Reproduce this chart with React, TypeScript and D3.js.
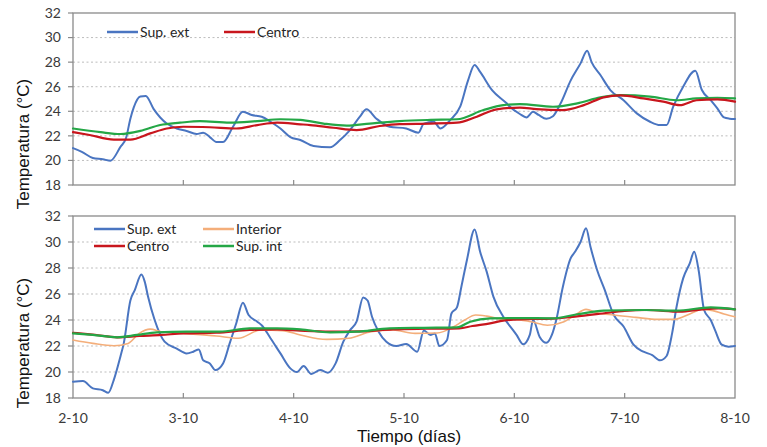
import React from "react";
import * as d3 from "d3";

// ---------- DATA (day offset from 2-10, temperature °C) ----------
const dayLabels = ["2-10", "3-10", "4-10", "5-10", "6-10", "7-10", "8-10"];
const yTicks = [18, 20, 22, 24, 26, 28, 30, 32];

const topSupExt: [number, number][] = [
  [0, 21.0], [0.08, 20.7], [0.18, 20.2], [0.27, 20.1], [0.34, 19.98], [0.43, 21.1], [0.48, 21.8],
  [0.52, 23.4], [0.55, 24.3], [0.61, 25.2], [0.66, 25.25], [0.73, 24.2], [0.85, 23.0], [0.94, 22.6],
  [1.03, 22.4], [1.12, 22.15], [1.18, 22.26], [1.24, 21.9], [1.3, 21.5], [1.36, 21.5], [1.45, 22.74],
  [1.54, 23.96], [1.62, 23.7], [1.71, 23.56], [1.79, 23.15], [1.88, 22.6], [1.97, 21.9], [2.06, 21.66],
  [2.18, 21.17], [2.33, 21.07], [2.42, 21.66], [2.51, 22.47], [2.6, 23.56], [2.66, 24.16], [2.75, 23.4],
  [2.87, 22.74], [3.02, 22.6], [3.13, 22.26], [3.18, 23.0], [3.27, 23.15], [3.33, 22.6], [3.42, 23.3],
  [3.51, 24.4], [3.58, 26.5], [3.64, 27.76], [3.69, 27.2], [3.8, 25.7], [3.93, 24.65], [3.96, 24.37],
  [4.05, 23.78], [4.11, 23.5], [4.17, 23.96], [4.22, 23.7], [4.29, 23.4], [4.35, 23.6], [4.42, 24.65],
  [4.51, 26.5], [4.6, 27.9], [4.66, 28.93], [4.7, 28.0], [4.78, 26.95], [4.87, 25.73], [4.99, 24.9],
  [5.11, 23.83], [5.23, 23.15], [5.32, 22.88], [5.38, 22.88], [5.44, 24.37], [5.53, 26.0], [5.64, 27.3],
  [5.7, 25.73], [5.78, 24.9], [5.84, 24.24], [5.9, 23.5], [5.95, 23.4], [6.0, 23.37],
];

const topCentro: [number, number][] = [
  [0, 22.3], [0.15, 22.07], [0.37, 21.7], [0.52, 21.7], [0.7, 22.2], [0.85, 22.6], [1.0, 22.74],
  [1.24, 22.7], [1.48, 22.6], [1.67, 22.88], [1.85, 23.07], [2.06, 22.94], [2.15, 22.88], [2.36, 22.66],
  [2.57, 22.47], [2.78, 22.8], [2.96, 22.96], [3.24, 23.0], [3.48, 23.07], [3.66, 23.56], [3.84, 24.16],
  [4.05, 24.3], [4.2, 24.18], [4.44, 24.1], [4.63, 24.5], [4.81, 25.13], [4.96, 25.3], [5.17, 25.05],
  [5.35, 24.78], [5.5, 24.5], [5.65, 24.9], [5.84, 24.97], [6.0, 24.78],
];

const topSupInt: [number, number][] = [
  [0, 22.6], [0.25, 22.3], [0.43, 22.15], [0.61, 22.4], [0.79, 22.88], [0.97, 23.07], [1.15, 23.2],
  [1.42, 23.07], [1.67, 23.2], [1.88, 23.35], [2.06, 23.3], [2.27, 23.0], [2.48, 22.83], [2.69, 23.0],
  [2.96, 23.2], [3.24, 23.3], [3.48, 23.35], [3.72, 24.1], [3.9, 24.5], [4.05, 24.58], [4.35, 24.37],
  [4.57, 24.65], [4.78, 25.13], [4.96, 25.32], [5.23, 25.2], [5.47, 24.9], [5.65, 25.05], [5.84, 25.1],
  [6.0, 25.05],
];

const botSupExt: [number, number][] = [
  [0, 19.25], [0.09, 19.3], [0.18, 18.74], [0.27, 18.6], [0.32, 18.4], [0.37, 19.4], [0.43, 21.2],
  [0.46, 22.2], [0.52, 25.5], [0.56, 26.3], [0.62, 27.5], [0.65, 26.95], [0.68, 25.8], [0.74, 24.0],
  [0.83, 22.33], [0.94, 21.8], [1.03, 21.43], [1.09, 21.56], [1.14, 21.73], [1.18, 20.9], [1.24, 20.66],
  [1.29, 20.15], [1.36, 20.66], [1.42, 22.2], [1.48, 23.75], [1.54, 25.33], [1.59, 24.4], [1.67, 23.87],
  [1.71, 23.6], [1.79, 22.6], [1.88, 21.43], [1.97, 20.28], [2.03, 20.0], [2.09, 20.46], [2.16, 19.85],
  [2.24, 20.15], [2.31, 19.95], [2.38, 20.66], [2.45, 22.33], [2.51, 23.2], [2.57, 23.87], [2.63, 25.74],
  [2.67, 25.5], [2.71, 24.25], [2.77, 23.1], [2.84, 22.33], [2.93, 22.0], [3.02, 22.15], [3.12, 21.56],
  [3.18, 23.2], [3.24, 22.85], [3.28, 22.97], [3.32, 22.0], [3.39, 22.46], [3.43, 24.5], [3.48, 24.97],
  [3.52, 26.56], [3.57, 28.6], [3.64, 30.97], [3.69, 29.25], [3.75, 27.7], [3.81, 25.8], [3.9, 24.25],
  [3.99, 23.2], [4.02, 22.85], [4.08, 22.13], [4.14, 22.85], [4.17, 24.0], [4.23, 22.7], [4.29, 22.25],
  [4.34, 22.85], [4.38, 24.0], [4.44, 26.56], [4.51, 28.74], [4.55, 29.25], [4.6, 30.0], [4.65, 31.05],
  [4.69, 29.64], [4.75, 27.85], [4.82, 26.3], [4.9, 24.4], [4.99, 23.5], [5.08, 22.1], [5.17, 21.56],
  [5.25, 21.3], [5.32, 20.9], [5.38, 21.23], [5.43, 22.97], [5.47, 25.0], [5.53, 27.2], [5.59, 28.36],
  [5.63, 29.25], [5.67, 27.85], [5.72, 24.77], [5.78, 24.0], [5.82, 23.2], [5.88, 22.1], [5.94, 21.95],
  [6.0, 22.0],
];

const botInterior: [number, number][] = [
  [0, 22.46], [0.18, 22.2], [0.37, 22.02], [0.5, 22.2], [0.6, 22.97], [0.7, 23.3], [0.8, 23.1],
  [1.0, 22.97], [1.3, 22.77], [1.5, 22.6], [1.7, 23.23], [1.9, 23.18], [2.06, 22.85], [2.3, 22.51],
  [2.5, 22.6], [2.7, 23.1], [2.9, 23.23], [3.1, 22.97], [3.3, 23.0], [3.45, 23.48], [3.55, 24.0],
  [3.65, 24.38], [3.75, 24.3], [3.9, 24.05], [4.0, 24.05], [4.15, 23.87], [4.3, 23.6], [4.45, 23.87],
  [4.55, 24.38], [4.65, 24.82], [4.75, 24.56], [4.9, 24.38], [5.1, 24.2], [5.3, 24.05], [5.45, 24.05],
  [5.6, 24.5], [5.7, 24.82], [5.8, 24.72], [5.9, 24.46], [6.0, 24.25],
];

const botCentro: [number, number][] = [
  [0, 23.02], [0.2, 22.85], [0.4, 22.67], [0.6, 22.77], [0.8, 22.85], [1.0, 22.97], [1.3, 23.02],
  [1.6, 23.23], [1.85, 23.28], [2.06, 23.18], [2.33, 23.1], [2.6, 23.13], [2.9, 23.28], [3.2, 23.33],
  [3.5, 23.36], [3.62, 23.54], [3.78, 23.74], [3.9, 23.95], [4.05, 24.05], [4.35, 24.1], [4.55, 24.26],
  [4.8, 24.5], [5.0, 24.7], [5.2, 24.77], [5.5, 24.64], [5.7, 24.82], [5.85, 24.9], [6.0, 24.82],
];

const botSupInt: [number, number][] = [
  [0, 22.97], [0.18, 22.85], [0.4, 22.67], [0.58, 22.85], [0.76, 23.05], [1.03, 23.1], [1.33, 23.1],
  [1.6, 23.36], [1.85, 23.36], [2.06, 23.28], [2.33, 23.05], [2.57, 23.1], [2.87, 23.36], [3.18, 23.4],
  [3.48, 23.43], [3.6, 23.87], [3.78, 24.13], [4.05, 24.15], [4.35, 24.13], [4.57, 24.44], [4.81, 24.72],
  [5.17, 24.77], [5.47, 24.72], [5.78, 24.97], [6.0, 24.82],
];

// ---------- STYLE ----------
const BLUE = "#4a75c1";
const RED = "#c8161d";
const GREEN = "#24a746";
const ORANGE = "#f4ae7a";
const TICK_FONT = "Lato, 'Open Sans', sans-serif";
const TITLE_FONT = "'Liberation Sans', Arial, sans-serif";

const W = 767;
const H = 447;
const xLeft = 73;
const xRight = 735;

const x = d3.scaleLinear().domain([0, 6]).range([xLeft, xRight]);

type Series = { data: [number, number][]; color: string; width: number };

function Panel({ top, bottom, series, showX }: { top: number; bottom: number; series: Series[]; showX: boolean }) {
  const y = d3.scaleLinear().domain([18, 32]).range([bottom, top]);
  const mk = (s: Series) =>
    d3
      .line<[number, number]>()
      .x((d) => x(d[0]))
      .y((d) => y(d[1]))
      .curve(d3.curveMonotoneX)(s.data) || "";
  return (
    <g>
      {yTicks
        .filter((t) => t > 18 && t < 32)
        .map((t) => (
          <line key={"g" + t} x1={xLeft} x2={xRight} y1={y(t)} y2={y(t)} stroke="#bdbdbd" strokeWidth={1} strokeDasharray="2,2.5" />
        ))}
      <rect x={xLeft} y={top} width={xRight - xLeft} height={bottom - top} fill="none" stroke="#8a8a8a" strokeWidth={1.3} />
      {yTicks.map((t) => (
        <g key={"y" + t}>
          <line x1={xLeft - 5} x2={xLeft} y1={y(t)} y2={y(t)} stroke="#8a8a8a" strokeWidth={1.2} />
          <text x={61} y={y(t)} dy="0.35em" textAnchor="end" fontFamily={TICK_FONT} fontSize={14} fill="#3a3a3a">
            {t}
          </text>
        </g>
      ))}
      {dayLabels.map((lab, i) => (
        <g key={"x" + i}>
          {i > 0 && i < 6 && <line x1={x(i)} x2={x(i)} y1={bottom} y2={bottom - 5} stroke="#8a8a8a" strokeWidth={1.2} />}
          {showX && (
            <text x={x(i)} y={bottom + 25} textAnchor="middle" fontFamily={TICK_FONT} fontSize={14} fill="#3a3a3a">
              {lab}
            </text>
          )}
        </g>
      ))}
      {series.map((s, i) => (
        <path key={i} d={mk(s)} fill="none" stroke={s.color} strokeWidth={s.width} strokeLinejoin="round" strokeLinecap="round" />
      ))}
    </g>
  );
}

function LegendItem({ x0, y0, color, label }: { x0: number; y0: number; color: string; label: string }) {
  return (
    <g>
      <line x1={x0} x2={x0 + 31} y1={y0} y2={y0} stroke={color} strokeWidth={2.5} />
      <text x={x0 + 33} y={y0} dy="0.35em" fontFamily={TICK_FONT} fontSize={14} fill="#262626">
        {label}
      </text>
    </g>
  );
}

export default function App() {
  const topSeries: Series[] = [
    { data: topSupExt, color: BLUE, width: 2 },
    { data: topSupInt, color: GREEN, width: 2.2 },
    { data: topCentro, color: RED, width: 2.2 },
  ];
  const botSeries: Series[] = [
    { data: botSupExt, color: BLUE, width: 2 },
    { data: botInterior, color: ORANGE, width: 1.6 },
    { data: botCentro, color: RED, width: 2.2 },
    { data: botSupInt, color: GREEN, width: 2.2 },
  ];
  return (
    <svg width={W} height={H} style={{ position: "absolute", left: 0, top: 0, background: "#fff" }}>
      <rect width={W} height={H} fill="#fff" />
      <Panel top={13} bottom={185} series={topSeries} showX={false} />
      <Panel top={216} bottom={398} series={botSeries} showX={true} />

      <LegendItem x0={107} y0={32} color={BLUE} label="Sup. ext" />
      <LegendItem x0={224} y0={32} color={RED} label="Centro" />

      <LegendItem x0={94} y0={229} color={BLUE} label="Sup. ext" />
      <LegendItem x0={203} y0={229} color={ORANGE} label="Interior" />
      <LegendItem x0={94} y0={246} color={RED} label="Centro" />
      <LegendItem x0={203} y0={246} color={GREEN} label="Sup. int" />

      <text transform="translate(29,144) rotate(-90)" textAnchor="middle" fontFamily={TITLE_FONT} fontSize={17} fill="#111">
        Temperatura (°C)
      </text>
      <text transform="translate(29,343) rotate(-90)" textAnchor="middle" fontFamily={TITLE_FONT} fontSize={17} fill="#111">
        Temperatura (°C)
      </text>
      <text x={409} y={442} textAnchor="middle" fontFamily={TITLE_FONT} fontSize={17} fill="#111">
        Tiempo (días)
      </text>
    </svg>
  );
}
